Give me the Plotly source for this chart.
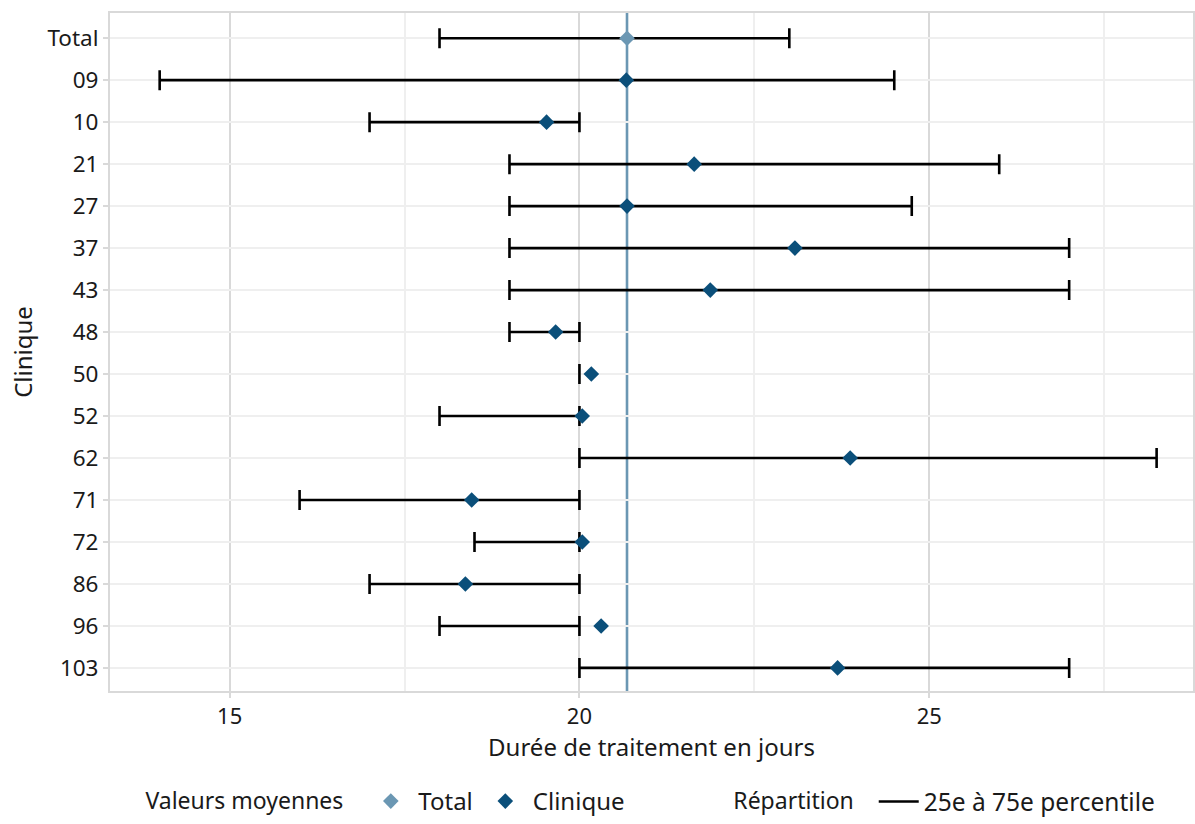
import plotly.graph_objects as go

cliniques = ["Total", "09", "10", "21", "27", "37", "43", "48", "50", "52", "62", "71", "72", "86", "96", "103"]
moyenne = [20.68, 20.67, 19.53, 21.64, 20.68, 23.08, 21.87, 19.66, 20.17, 20.04, 23.87, 18.46, 20.04, 18.37, 20.31, 23.69]
p25 = [18.0, 14.0, 17.0, 19.0, 19.0, 19.0, 19.0, 19.0, 20.0, 18.0, 20.0, 16.0, 18.5, 17.0, 18.0, 20.0]
p75 = [23.0, 24.5, 20.0, 26.0, 24.75, 27.0, 27.0, 20.0, 20.0, 20.0, 28.25, 20.0, 20.0, 20.0, 20.0, 27.0]
x_ticks = [15, 20, 25]

COL_TOTAL = "#6b97b3"
COL_CLIN = "#0b4f7a"
FONT = "Noto Sans"

fig = go.Figure()

# interquartile bars
fig.add_trace(go.Scatter(
    x=p25, y=cliniques, mode="markers",
    marker=dict(size=1, opacity=0),
    error_x=dict(type="data", symmetric=False,
                 array=[b - a for a, b in zip(p25, p75)],
                 arrayminus=[0] * len(p25),
                 color="black", thickness=2.6, width=10),
    showlegend=False, hoverinfo="skip"))

fig.add_trace(go.Scatter(
    x=[moyenne[0]], y=[cliniques[0]], mode="markers", name="Total",
    marker=dict(symbol="diamond", size=12, color=COL_TOTAL),
    legend="legend"))
fig.add_trace(go.Scatter(
    x=moyenne[1:], y=cliniques[1:], mode="markers", name="Clinique",
    marker=dict(symbol="diamond", size=12, color=COL_CLIN),
    legend="legend"))
fig.add_trace(go.Scatter(
    x=[None], y=[None], mode="lines", name="25e à 75e percentile",
    line=dict(color="black", width=2.6), legend="legend2"))

fig.add_vline(x=moyenne[0], line=dict(color=COL_TOTAL, width=2.6), layer="below")

fig.update_layout(
    width=1195, height=824,
    margin=dict(l=110, r=0, t=13, b=133),
    paper_bgcolor="white", plot_bgcolor="white",
    font=dict(family=FONT, size=22, color="#1a1a1a"),
    xaxis=dict(range=[13.29, 28.77], tickvals=x_ticks, ticktext=[str(v) for v in x_ticks],
               tickfont=dict(size=22),
               showgrid=True, gridcolor="#d9d9d9", gridwidth=2,
               minor=dict(dtick=2.5, tick0=17.5, showgrid=True, gridcolor="#efefef", gridwidth=1.5),
               showline=True, linecolor="#d9d9d9", linewidth=2, mirror=True,
               ticks="outside", ticklen=5, tickcolor="#d9d9d9", tickwidth=2,
               title=dict(text="Durée de traitement en jours", font=dict(size=24), standoff=6),
               zeroline=False),
    yaxis=dict(categoryorder="array", categoryarray=cliniques, range=[15.55, -0.6],
               tickfont=dict(size=22.5),
               showgrid=True, gridcolor="#efefef", gridwidth=2,
               showline=True, linecolor="#d9d9d9", linewidth=2, mirror=True,
               ticks="outside", ticklen=5, tickcolor="#d9d9d9", tickwidth=2,
               title=dict(text="Clinique", font=dict(size=24), standoff=8),
               zeroline=False),
    legend=dict(orientation="h", xref="container", yref="container", x=0.12, y=-0.011,
                xanchor="left", yanchor="bottom",
                title=dict(text="Valeurs moyennes  ", side="left", font=dict(size=23)),
                font=dict(size=24), itemwidth=45),
    legend2=dict(orientation="h", xref="container", yref="container", x=0.612, y=-0.011,
                 xanchor="left", yanchor="bottom",
                 title=dict(text="Répartition  ", side="left", font=dict(size=23)),
                 font=dict(size=24.5), itemwidth=40),
)

fig.write_html("out.html")
